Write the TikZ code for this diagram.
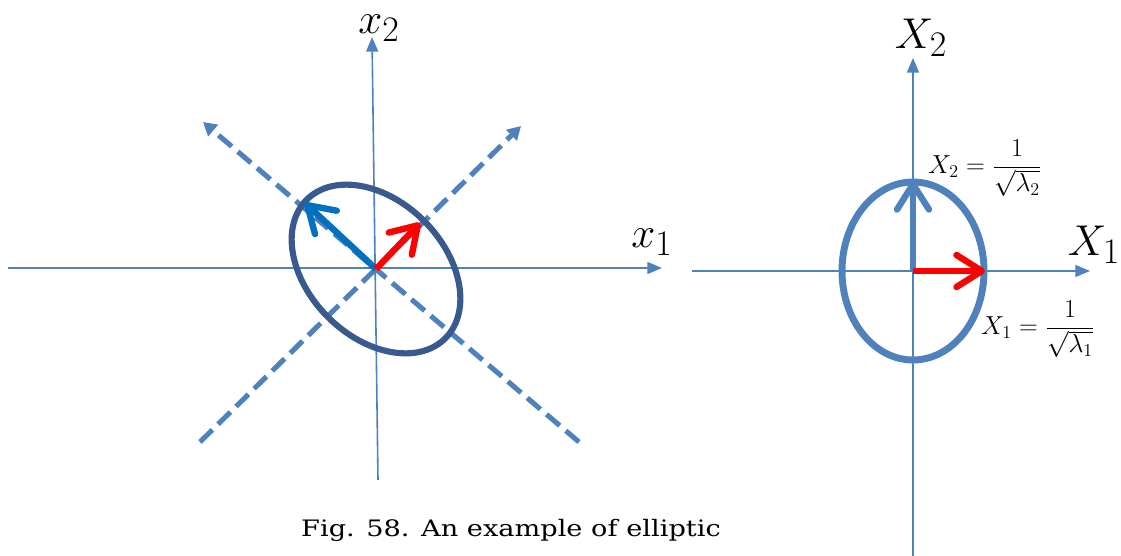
\documentclass[tikz,border=0pt]{standalone}
\usepackage{graphicx}
\usepackage{fontspec}
\newfontfamily\capfont{DejaVu Serif}
\usetikzlibrary{arrows.meta}
\definecolor{axisblue}{RGB}{79,129,189}
\definecolor{darkell}{RGB}{56,90,140}
\definecolor{vecblue}{RGB}{0,112,192}
\definecolor{vecred}{RGB}{255,0,0}
\tikzset{
  axisline/.style={draw=axisblue, line width=1.2pt, -{Triangle[length=11pt,width=9pt]}},
  dashaxis/.style={draw=axisblue, line width=3.8pt, dash pattern=on 13pt off 6pt, -{Triangle[length=10pt,width=11pt]}},
  vecarrow/.style={line width=4.8pt, line cap=butt, -{Straight Barb[length=19pt,width=24pt,round]}},
  biglabel/.style={inner sep=0pt, font=\fontsize{24.88}{28}\selectfont},
  eqlabel/.style={inner sep=0pt, font=\fontsize{17.28}{21}\selectfont},
}
\begin{document}
\begin{tikzpicture}[x=0.75pt, y=-0.75pt]
\useasboundingbox (0,0) rectangle (1121,556);
% ---------- left diagram ----------
\coordinate (Lc) at (376,269);
\coordinate (Lh0) at (8,268);
\coordinate (Lh1) at (662,268);
\coordinate (Lv0) at (378,480);
\coordinate (Lv1) at (372,37);
\draw[axisline] (Lh0) -- (Lh1);
\draw[axisline] (Lv0) -- (Lv1);
\coordinate (Da0) at (200,442);
\coordinate (Da1) at (521,126);
\coordinate (Db0) at (579,442);
\coordinate (Db1) at (203,122);
\draw[dashaxis] (Da0) -- (Da1);
\draw[dashaxis] (Db0) -- (Db1);
\draw[draw=darkell, line width=4.6pt, rotate around={-45:(Lc)}] (Lc) ellipse [x radius=98, y radius=68];
\coordinate (Lbt) at (305,203);
\coordinate (Lrt) at (420,223);
\draw[vecarrow, vecblue] (Lc) -- (Lbt);
\draw[vecarrow, vecred] (Lc) -- (Lrt);
\node[biglabel] (lx2) at (379,28) {\scalebox{1.3}{$x_2$}};
\node[biglabel] (lx1) at (652,242) {\scalebox{1.3}{$x_1$}};
% ---------- right diagram ----------
\coordinate (Rc) at (913,271);
\coordinate (Rh0) at (692,271);
\coordinate (Rh1) at (1090,271);
\coordinate (Rv0) at (913,556);
\coordinate (Rv1) at (913,58);
\draw[axisline] (Rh0) -- (Rh1);
\draw[axisline] (Rv0) -- (Rv1);
\draw[draw=axisblue, line width=5.2pt] (Rc) ellipse [x radius=71, y radius=89];
\coordinate (Rup) at (913,181);
\coordinate (Rrt) at (985,271);
\draw[vecarrow, axisblue] (Rc) -- (Rup);
\draw[vecarrow, vecred] (Rc) -- (Rrt);
\node[biglabel] (RX2) at (921,38) {\scalebox{1.3}{$X_2$}};
\node[biglabel] (RX1) at (1094,245) {\scalebox{1.3}{$X_1$}};
\node[eqlabel] (eq2) at (985,168) {\scalebox{1.13}{$X_2=\displaystyle\frac{1}{\sqrt{\lambda_2}}$}};
\node[eqlabel] (eq1) at (1038,329) {\scalebox{1.13}{$X_1=\displaystyle\frac{1}{\sqrt{\lambda_1}}$}};
% ---------- caption ----------
\node[inner sep=0pt, font=\capfont\fontsize{17}{20}\selectfont] (cap) at (511,530) {\scalebox{1.2}[1]{Fig. 58. An example of elliptic}};
\end{tikzpicture}
\end{document}
